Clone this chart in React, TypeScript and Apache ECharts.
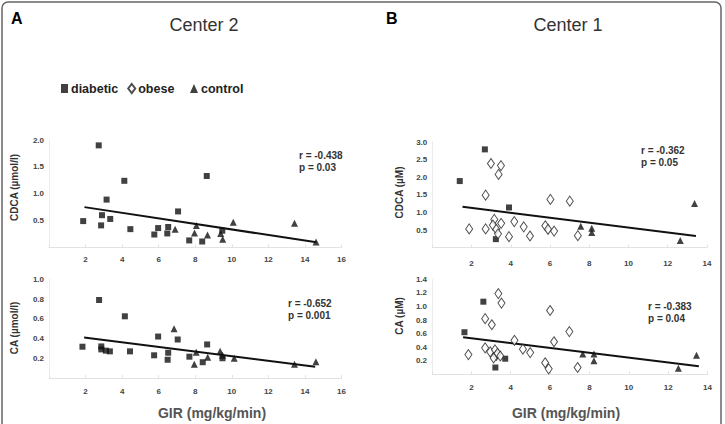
import React, { useEffect, useRef } from "react";
import * as echarts from "echarts";

// ---- Panel A (Center 2) : CDCA ----
const aCdcaDiabetic = [
  [1.87, 0.49], [2.72, 1.9], [2.9, 0.6], [2.85, 0.41], [3.15, 0.89], [3.35, 0.53],
  [4.12, 1.24], [4.45, 0.34], [5.76, 0.24], [5.97, 0.36], [6.47, 0.26], [6.52, 0.38],
  [7.06, 0.67], [7.67, 0.13], [8.38, 0.11], [8.63, 1.33], [9.48, 0.31],
];
const aCdcaControl = [
  [6.9, 0.34], [7.96, 0.27], [8.06, 0.41], [8.67, 0.23], [9.39, 0.26], [9.5, 0.15],
  [10.08, 0.47], [13.43, 0.45], [14.61, 0.1],
];
const aCdcaFit = [[1.94, 0.75], [14.63, 0.095]];

// ---- Panel A (Center 2) : CA ----
const aCaDiabetic = [
  [1.83, 0.317], [2.74, 0.79], [2.86, 0.32], [2.86, 0.29], [3.11, 0.277], [3.33, 0.27],
  [4.15, 0.625], [4.43, 0.27], [5.75, 0.23], [5.97, 0.42], [6.52, 0.256], [6.49, 0.185],
  [7.04, 0.39], [7.68, 0.216], [8.41, 0.16], [8.65, 0.34], [9.49, 0.2],
];
const aCaControl = [
  [6.84, 0.5], [7.95, 0.14], [8.05, 0.26], [8.68, 0.21], [9.36, 0.27], [9.49, 0.23],
  [10.13, 0.2], [13.43, 0.14], [14.6, 0.165],
];
const aCaFit = [[1.92, 0.41], [14.56, 0.115]];

// ---- Panel B (Center 1) : CDCA ----
const bCdcaDiabetic = [[1.4, 1.89], [2.68, 2.79], [3.91, 1.14], [3.24, 0.24]];
const bCdcaObese = [
  [1.88, 0.53], [2.72, 1.49], [2.72, 0.53], [2.99, 2.39], [3.5, 2.33], [3.38, 2.08],
  [3.16, 0.8], [3.09, 0.64], [3.26, 0.52], [3.35, 0.39], [3.51, 0.69], [3.91, 0.31],
  [4.18, 0.74], [4.66, 0.59], [4.98, 0.33], [5.76, 0.62], [5.9, 0.52], [6.21, 0.47],
  [6.02, 1.37], [7.01, 1.32], [7.42, 0.34],
];
const bCdcaControl = [[7.57, 0.61], [8.13, 0.55], [8.13, 0.43], [12.64, 0.2], [13.37, 1.25]];
const bCdcaFit = [[1.54, 1.16], [13.44, 0.33]];

// ---- Panel B (Center 1) : CA ----
const bCaDiabetic = [[1.65, 0.62], [2.61, 1.07], [3.72, 0.23], [3.22, 0.1]];
const bCaObese = [
  [1.85, 0.29], [2.7, 0.82], [2.7, 0.39], [3.04, 0.73], [3.37, 1.19], [3.53, 1.05],
  [2.96, 0.33], [3.2, 0.36], [3.27, 0.28], [3.13, 0.24], [3.33, 0.31], [3.47, 0.27],
  [4.19, 0.5], [4.62, 0.37], [4.99, 0.32], [5.75, 0.17], [5.93, 0.08], [6.0, 0.94],
  [6.2, 0.48], [6.98, 0.63], [7.4, 0.1],
];
const bCaControl = [[7.66, 0.3], [8.23, 0.3], [8.23, 0.2], [12.52, 0.09], [13.44, 0.28]];
const bCaFit = [[1.58, 0.545], [13.56, 0.12]];

const groupNames = ["diabetic", "obese", "control"];
const panelLetters = ["A", "B"];
const panelTitles = ["Center 2", "Center 1"];
const yAxisNames = ["CDCA (µmol/l)", "CA (µmol/l)", "CDCA (µM)", "CA (µM)"];
const xAxisName = "GIR (mg/kg/min)";
const xMaxes = [16, 16, 14, 14];
const yMaxes = [2.0, 1.0, 3.0, 1.4];
const yIntervals = [0.5, 0.2, 0.5, 0.2];
const statTexts = [
  ["r = -0.438", "p = 0.03"],
  ["r = -0.652", "p = 0.001"],
  ["r = -0.362", "p = 0.05"],
  ["r = -0.383", "p = 0.04"],
];

const FONT = "'Liberation Sans', Arial, sans-serif";
const INK = "#111";

export default function App() {
  const ref = useRef<HTMLDivElement>(null);

  useEffect(() => {
    if (!ref.current) return;
    const chart = echarts.init(ref.current, null, { renderer: "svg" });

    const grids = [
      { left: 49, top: 140, width: 292.5, height: 107.4 },
      { left: 49, top: 279.3, width: 292.5, height: 98.7 },
      { left: 432.3, top: 142, width: 274.6, height: 105.6 },
      { left: 432, top: 279.3, width: 275.5, height: 95 },
    ];
    const labelMargins = [8, 9, 12, 9];

    const xAxes = grids.map((_, i) => ({
      type: "value",
      gridIndex: i,
      min: 0,
      max: xMaxes[i],
      interval: 2,
      showMinLabel: false,
      splitLine: { show: false },
      axisLine: { show: true, lineStyle: { color: "#e2e2e2", width: 1 } },
      axisTick: { show: true, inside: true, length: 3, lineStyle: { color: "#e2e2e2" } },
      axisLabel: {
        margin: labelMargins[i],
        fontSize: 8,
        fontWeight: "bold",
        color: "#444",
        fontFamily: FONT,
        formatter: (v: number) => (v === 0 ? "" : String(v)),
      },
    }));

    const yAxes = grids.map((_, i) => ({
      type: "value",
      gridIndex: i,
      min: 0,
      max: yMaxes[i],
      interval: yIntervals[i],
      showMinLabel: false,
      splitLine: { show: false },
      axisLine: { show: true, lineStyle: { color: "#ececec", width: 1 } },
      axisTick: { show: false },
      axisLabel: {
        margin: 5,
        fontSize: 8,
        fontWeight: "bold",
        color: "#444",
        fontFamily: FONT,
        formatter: (v: number) => (v === 0 ? "" : v.toFixed(1)),
      },
    }));

    const scatter = (name: string, data: number[][], idx: number, kind: string) => {
      const base: any = {
        name,
        type: "scatter",
        xAxisIndex: idx,
        yAxisIndex: idx,
        data,
        silent: true,
        z: 3,
      };
      if (kind === "square") {
        base.symbol = "rect";
        base.symbolSize = 6;
        base.itemStyle = { color: INK };
      } else if (kind === "diamond") {
        base.symbol = "diamond";
        base.symbolSize = [7, 10];
        base.itemStyle = { color: "#fff", borderColor: "#222", borderWidth: 1 };
      } else {
        base.symbol = "triangle";
        base.symbolSize = [7, 7];
        base.itemStyle = { color: INK };
      }
      return base;
    };
    const fit = (data: number[][], idx: number) => ({
      type: "line",
      xAxisIndex: idx,
      yAxisIndex: idx,
      data,
      showSymbol: false,
      symbol: "none",
      silent: true,
      lineStyle: { color: INK, width: 2 },
      z: 2,
    });

    const series: any[] = [
      scatter(groupNames[0], aCdcaDiabetic, 0, "square"),
      scatter(groupNames[2], aCdcaControl, 0, "triangle"),
      fit(aCdcaFit, 0),
      scatter(groupNames[0], aCaDiabetic, 1, "square"),
      scatter(groupNames[2], aCaControl, 1, "triangle"),
      fit(aCaFit, 1),
      scatter(groupNames[0], bCdcaDiabetic, 2, "square"),
      scatter(groupNames[1], bCdcaObese, 2, "diamond"),
      scatter(groupNames[2], bCdcaControl, 2, "triangle"),
      fit(bCdcaFit, 2),
      scatter(groupNames[0], bCaDiabetic, 3, "square"),
      scatter(groupNames[1], bCaObese, 3, "diamond"),
      scatter(groupNames[2], bCaControl, 3, "triangle"),
      fit(bCaFit, 3),
    ];

    const statPos = [
      [299, 149],
      [288, 297],
      [641, 144],
      [648, 300],
    ];
    const yNamePos = [
      [14, 187.5],
      [14, 328],
      [399, 192.5],
      [399, 316],
    ];

    const graphics: any[] = [
      {
        type: "rect",
        shape: { x: 2, y: 2, width: 719, height: 440, r: 6 },
        style: { fill: "none", stroke: "#666", lineWidth: 1.5 },
        silent: true,
      },
      {
        type: "text",
        x: 11,
        y: 10,
        style: { text: panelLetters[0], font: `bold 16px ${FONT}`, fill: "#000" },
      },
      {
        type: "text",
        x: 386,
        y: 10,
        style: { text: panelLetters[1], font: `bold 16px ${FONT}`, fill: "#000" },
      },
      {
        type: "text",
        x: 204,
        y: 25,
        style: {
          text: panelTitles[0],
          font: `18px ${FONT}`,
          fill: "#333",
          align: "center",
          verticalAlign: "middle",
        },
      },
      {
        type: "text",
        x: 568,
        y: 25,
        style: {
          text: panelTitles[1],
          font: `18px ${FONT}`,
          fill: "#333",
          align: "center",
          verticalAlign: "middle",
        },
      },
      {
        type: "text",
        x: 212,
        y: 413,
        style: {
          text: xAxisName,
          font: `bold 14px ${FONT}`,
          fill: "#555",
          align: "center",
          verticalAlign: "middle",
        },
      },
      {
        type: "text",
        x: 566,
        y: 413,
        style: {
          text: xAxisName,
          font: `bold 14px ${FONT}`,
          fill: "#555",
          align: "center",
          verticalAlign: "middle",
        },
      },
    ];
    statTexts.forEach((t, i) => {
      graphics.push({
        type: "text",
        x: statPos[i][0],
        y: statPos[i][1],
        style: {
          text: t.join("\n"),
          font: `bold 10px ${FONT}`,
          lineHeight: 12,
          fill: "#333",
        },
      });
    });
    yAxisNames.forEach((t, i) => {
      graphics.push({
        type: "text",
        x: yNamePos[i][0],
        y: yNamePos[i][1],
        rotation: Math.PI / 2,
        style: {
          text: t,
          font: `bold 10px ${FONT}`,
          fill: "#333",
          align: "center",
          verticalAlign: "middle",
        },
      });
    });

    const legendText = {
      fontFamily: FONT,
      fontSize: 12.5,
      fontWeight: "bold",
      color: "#222",
      padding: [0, 0, 0, -2],
    };

    chart.setOption({
      animation: false,
      backgroundColor: "#fff",
      grid: grids,
      xAxis: xAxes,
      yAxis: yAxes,
      legend: [
        {
          data: [groupNames[0], groupNames[1]],
          left: 61,
          top: 82,
          itemWidth: 7,
          itemHeight: 9,
          itemGap: 9,
          padding: 0,
          selectedMode: false,
          textStyle: legendText,
        },
        {
          data: [groupNames[2]],
          left: 190,
          top: 82,
          itemWidth: 8,
          itemHeight: 9,
          padding: 0,
          selectedMode: false,
          textStyle: legendText,
        },
      ],
      graphic: graphics,
      series,
    });

    return () => chart.dispose();
  }, []);

  return (
    <div
      ref={ref}
      style={{ position: "fixed", left: 0, top: 0, width: 725, height: 424, background: "#fff" }}
    />
  );
}
